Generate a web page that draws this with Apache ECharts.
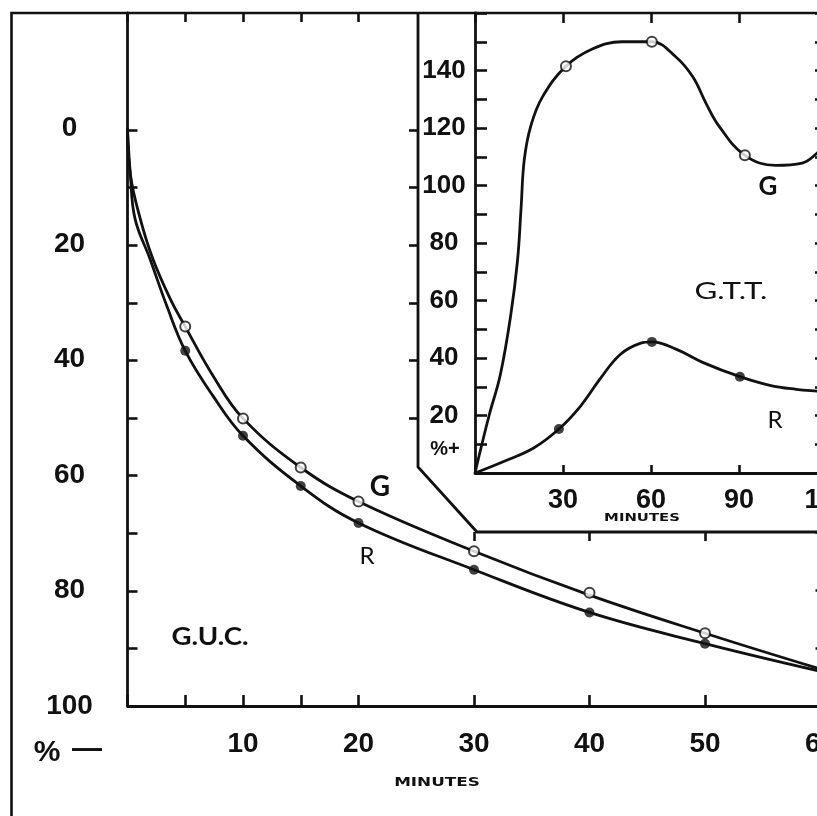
<!DOCTYPE html>
<html>
<head>
<meta charset="utf-8">
<script src="https://cdn.jsdelivr.net/npm/echarts@6/dist/echarts.min.js"></script>
<style>
  html, body { margin: 0; padding: 0; background: #fff; }
  #chart { width: 817px; height: 816px; }
</style>
</head>
<body>
<div id="chart"></div>
<script>
// ---- G.U.C. (big plot), % fall, axis runs downward ----
var gucMinutes = [0, 5, 10, 15, 20, 30, 40, 50, 60];
var gucG = [0, 34.3, 50.2, 58.7, 64.6, 73.2, 80.4, 87.4, 93.6];
var gucR = [0, 38.5, 53.2, 61.9, 68.3, 76.4, 83.8, 89.2, 94.0];
// points (steep start near 0)
var gucGLineMin = [0, 0.25, 1.1, 2.2, 3.7, 5, 7.4, 10, 15, 20, 30, 40, 50, 60];
var gucGLine = [0, 8, 15.6, 22.6, 29.5, 34.3, 42.8, 50.2, 58.7, 64.6, 73.2, 80.8, 87.4, 93.6];
var gucRLineMin = [0, 0.25, 0.65, 1.95, 3.4, 5, 7.4, 10, 15, 20, 30, 40, 50, 60];
var gucRLine = [0, 8, 15.6, 22.6, 30.7, 38.5, 46.3, 53.2, 61.9, 68.3, 76.4, 83.8, 89.2, 94.0];

// ---- G.T.T. (inset), % rise ----
var gttGMinutes = [0, 31, 60.3, 92];
var gttG = [0, 141.5, 150, 110.5];
var gttRMinutes = [0, 28.6, 60.3, 90.3];
var gttR = [0, 15.3, 45.6, 33.5];
var gttGLineMin = [0, 4.8, 8.6, 12.2, 14.5, 15.7, 16.8, 19.1, 23.1, 31, 40, 50, 60.3, 68.6, 74.3, 78.8, 83.3, 92, 102.5, 111.5, 116, 120];
var gttGLine = [0, 20, 34, 55, 74, 92, 109, 121, 131, 141.5, 147.5, 150, 150, 144.6, 137.7, 128.5, 120.5, 110.5, 107, 107.8, 110.7, 115];
var gttRLineMin = [0, 10, 20, 28.6, 36, 42.9, 49.6, 56.3, 60.3, 68.7, 77.8, 90.3, 100.5, 109.5, 116.5, 120];
var gttRLine = [0, 4.1, 8.7, 15.3, 23.3, 33.1, 41.3, 45.1, 45.6, 43, 38.4, 33.5, 30.5, 29.1, 28.5, 28.3];

var ink = "#111";
var numFont = "'Liberation Sans', Arial, sans-serif";
var txtFont = "Lato, 'Noto Sans', sans-serif";

function pairs(xs, ys) {
  return xs.map(function (x, i) { return [x, ys[i]]; });
}

var hiddenX = function (g) { return { gridIndex: g, type: "value", min: 0, max: 1, show: false }; };
var hiddenY = function (g) { return { gridIndex: g, type: "value", min: 0, max: 1, show: false }; };

function tickAxis(g, pos, min, max, step, inside, len, inverse) {
  return {
    gridIndex: g, type: "value", position: pos, min: min, max: max, interval: step,
    inverse: !!inverse,
    axisLine: { show: false, onZero: false },
    axisTick: { show: true, inside: inside, length: len, lineStyle: { color: ink, width: 2.6 } },
    axisLabel: { show: false },
    splitLine: { show: false }
  };
}

function box(left, top, width, height) {
  return { left: left, top: top, width: width, height: height, outerBoundsMode: "none", containLabel: false };
}

function label(x, y, text, font, sx) {
  return { type: "text", x: x, y: y, scaleX: sx || 1, z: 12,
    style: { text: text, fill: ink, font: font, textAlign: "center", textVerticalAlign: "middle" } };
}

var chart = echarts.init(document.getElementById("chart"));

chart.setOption({
  backgroundColor: "#fff",
  animation: false,
  grid: [
    box(127.5, 13, 693, 693),   // 0 main
    box(127.5, 13, 231, 693),   // 1 ticks 0..20 min
    box(127.5, 130, 693, 576),  // 2 left ticks 0..100
    box(474, 532, 346.5, 174),  // 3 ticks 30..60 min, right 70..100
    box(418, 130, 56, 288),     // 4 ticks on cut-out edge
    box(475, 13, 352, 460)      // 5 inset
  ],
  xAxis: [
    {
      gridIndex: 0, type: "value", min: 0, max: 60, interval: 10, position: "bottom",
      axisLine: { onZero: false, lineStyle: { color: ink, width: 2.8 } },
      axisTick: { show: false },
      splitLine: { show: false },
      axisLabel: {
        margin: 24, color: ink, fontSize: 28, fontWeight: "bold", fontFamily: numFont,
        formatter: function (v) { return v === 0 ? "" : v; }
      }
    },
    tickAxis(1, "bottom", 0, 20, 5, true, 11),
    tickAxis(1, "top", 0, 20, 5, true, 9),
    hiddenX(2),
    tickAxis(3, "bottom", 30, 60, 10, true, 11),
    tickAxis(3, "top", 30, 60, 10, true, 9),
    hiddenX(4),
    {
      gridIndex: 5, type: "value", min: 0, max: 120, interval: 30, position: "bottom",
      axisLine: { onZero: false, lineStyle: { color: ink, width: 2.8 } },
      axisTick: { inside: true, length: 8, lineStyle: { color: ink, width: 2.6 } },
      splitLine: { show: false },
      axisLabel: {
        margin: 14, color: ink, fontSize: 27, fontWeight: "bold", fontFamily: numFont,
        formatter: function (v) { return v === 0 ? "" : v; }
      }
    },
    tickAxis(5, "top", 0, 120, 30, true, 10)
  ],
  yAxis: [
    {
      gridIndex: 0, type: "value", min: -20, max: 100, interval: 10, inverse: true, position: "left",
      axisLine: { onZero: false, lineStyle: { color: ink, width: 2.8 } },
      axisTick: { show: false },
      splitLine: { show: false },
      axisLabel: {
        margin: 58, align: "center", color: ink, fontSize: 28, fontWeight: "bold", fontFamily: numFont,
        formatter: function (v) { return (v >= 0 && v % 20 === 0) ? v : ""; }
      }
    },
    hiddenY(1),
    tickAxis(2, "left", 0, 100, 10, true, 10, true),
    tickAxis(3, "right", 70, 100, 10, true, 5, true),
    tickAxis(4, "left", 0, 50, 10, false, 9, true),
    {
      gridIndex: 5, type: "value", min: 0, max: 160, interval: 10, position: "left",
      axisLine: { onZero: false, lineStyle: { color: ink, width: 2.8 } },
      axisTick: { inside: true, length: 12, lineStyle: { color: ink, width: 2.6 } },
      splitLine: { show: false },
      axisLabel: {
        margin: 31, align: "center", color: ink, fontSize: 26, fontWeight: "bold", fontFamily: numFont,
        formatter: function (v) { return (v > 0 && v < 160 && v % 20 === 0) ? v : ""; }
      }
    },
    tickAxis(5, "right", 0, 160, 10, true, 12)
  ],
  graphic: [
    { type: "polyline", shape: { points: [[11.5, 830], [11.5, 13], [830, 13]] },
      style: { stroke: ink, lineWidth: 2.6, fill: null }, z: 10 },
    { type: "polyline", shape: { points: [[418, 13], [418, 467], [477, 532], [830, 532]] },
      style: { stroke: ink, lineWidth: 2.8, fill: null }, z: 10 },
    label(47, 753, "%", "bold 30px " + numFont),
    label(87, 750, "\u2014", "bold 30px " + numFont),
    label(437, 783, "MINUTES", "bold 12px 'DejaVu Sans', sans-serif", 1.4),
    label(642, 518, "MINUTES", "bold 11px 'DejaVu Sans', sans-serif", 1.35),
    label(445, 449, "%+", "bold 20px " + numFont),
    label(210, 637, "G.U.C.", "bold 24px " + txtFont, 1.15),
    label(380, 487, "G", "bold 28px " + txtFont),
    label(367, 556, "R", "24px " + txtFont),
    label(731, 291, "G.T.T.", "24px " + txtFont, 1.3),
    label(768, 187, "G", "bold 26px " + txtFont),
    label(775, 420, "R", "24px " + txtFont)
  ],
  series: [
    { name: "GUC G", type: "line", xAxisIndex: 0, yAxisIndex: 0, data: pairs(gucGLineMin, gucGLine),
      smooth: 0.4, showSymbol: false, silent: true, lineStyle: { color: ink, width: 2.8 }, z: 3 },
    { name: "GUC R", type: "line", xAxisIndex: 0, yAxisIndex: 0, data: pairs(gucRLineMin, gucRLine),
      smooth: 0.4, showSymbol: false, silent: true, lineStyle: { color: ink, width: 2.8 }, z: 3 },
    { name: "GUC G pts", type: "scatter", xAxisIndex: 0, yAxisIndex: 0, data: pairs(gucMinutes.slice(1, 8), gucG.slice(1, 8)),
      symbol: "circle", symbolSize: 10, itemStyle: { color: "#fff", borderColor: ink, borderWidth: 2 }, z: 5 },
    { name: "GUC R pts", type: "scatter", xAxisIndex: 0, yAxisIndex: 0, data: pairs(gucMinutes.slice(1, 8), gucR.slice(1, 8)),
      symbol: "circle", symbolSize: 10, itemStyle: { color: ink }, z: 5 },

    { name: "GTT G", type: "line", xAxisIndex: 7, yAxisIndex: 5, data: pairs(gttGLineMin, gttGLine),
      smooth: 0.4, showSymbol: false, silent: true, lineStyle: { color: ink, width: 2.8 }, z: 3 },
    { name: "GTT R", type: "line", xAxisIndex: 7, yAxisIndex: 5, data: pairs(gttRLineMin, gttRLine),
      smooth: 0.4, showSymbol: false, silent: true, lineStyle: { color: ink, width: 2.8 }, z: 3 },
    { name: "GTT G pts", type: "scatter", xAxisIndex: 7, yAxisIndex: 5, data: pairs(gttGMinutes.slice(1), gttG.slice(1)),
      symbol: "circle", symbolSize: 10, itemStyle: { color: "#fff", borderColor: ink, borderWidth: 2 }, z: 5 },
    { name: "GTT R pts", type: "scatter", xAxisIndex: 7, yAxisIndex: 5, data: pairs(gttRMinutes.slice(1), gttR.slice(1)),
      symbol: "circle", symbolSize: 10, itemStyle: { color: ink }, z: 5 }
  ]
});
</script>
</body>
</html>
